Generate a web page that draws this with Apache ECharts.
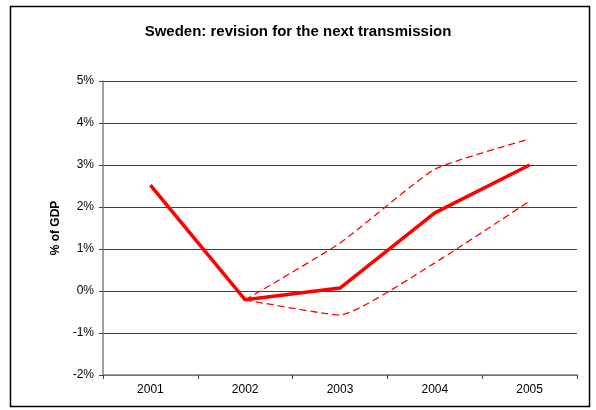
<!DOCTYPE html>
<html><head><meta charset="utf-8">
<script src="https://cdn.jsdelivr.net/npm/echarts@6/dist/echarts.min.js"></script>
<style>html,body{margin:0;padding:0;background:#fff}#c{width:596px;height:410px}</style>
</head><body><div id="c"></div>
<script>
const categories = ['2001','2002','2003','2004','2005'];
const mainSeries = [2.52, -0.21, 0.07, 1.86, 3.0];
const upperSeries = [null, -0.21, 1.14, 2.9, 3.62];
const lowerSeries = [null, -0.21, -0.57, 0.67, 2.14];
const yTicks = {min: -2, max: 5, interval: 1};
const title = 'Sweden: revision for the next transmission';
const yName = '% of GDP';

const chart = echarts.init(document.getElementById('c'), null, {renderer: 'canvas'});
const font = 'Liberation Sans, Arial, sans-serif';
chart.setOption({
  animation: false,
  backgroundColor: '#fff',
  graphic: [{type: 'rect', shape: {x: 10.5, y: 6.5, width: 579, height: 400}, style: {fill: 'none', stroke: '#000', lineWidth: 1.5}, z: -1}],
  title: {text: title, left: 'center', top: 19, textStyle: {fontFamily: font, fontSize: 15, fontWeight: 'bold', color: '#000'}},
  grid: {left: 103, right: 19, top: 81, bottom: 35},
  xAxis: {type: 'category', data: categories, boundaryGap: true,
    axisLine: {onZero: false, lineStyle: {color: '#808080', width: 1.5}},
    axisTick: {show: true, length: 4, lineStyle: {color: '#404040'}},
    axisLabel: {fontFamily: font, fontSize: 12, color: '#000', margin: 9},
    splitLine: {show: false}},
  yAxis: {type: 'value', min: yTicks.min, max: yTicks.max, interval: yTicks.interval,
    name: yName, nameLocation: 'middle', nameGap: 39, nameRotate: 90,
    nameTextStyle: {fontFamily: font, fontSize: 12, fontWeight: 'bold', color: '#000'},
    axisLine: {show: true, lineStyle: {color: '#808080', width: 1.5}},
    axisTick: {show: true, length: 4, lineStyle: {color: '#404040'}},
    axisLabel: {fontFamily: font, fontSize: 12, color: '#000', margin: 9, formatter: v => v + '%'},
    splitLine: {show: true, lineStyle: {color: '#404040', width: 1}}},
  series: [
    {type: 'line', data: upperSeries, symbol: 'none', smooth: 0.15, lineStyle: {color: '#ff0000', width: 1.3, type: [7, 4]}},
    {type: 'line', data: lowerSeries, symbol: 'none', smooth: 0.15, lineStyle: {color: '#ff0000', width: 1.3, type: [7, 4]}},
    {type: 'line', data: mainSeries, symbol: 'none', lineStyle: {color: '#ff0000', width: 3.5}}
  ]
});
</script></body></html>
